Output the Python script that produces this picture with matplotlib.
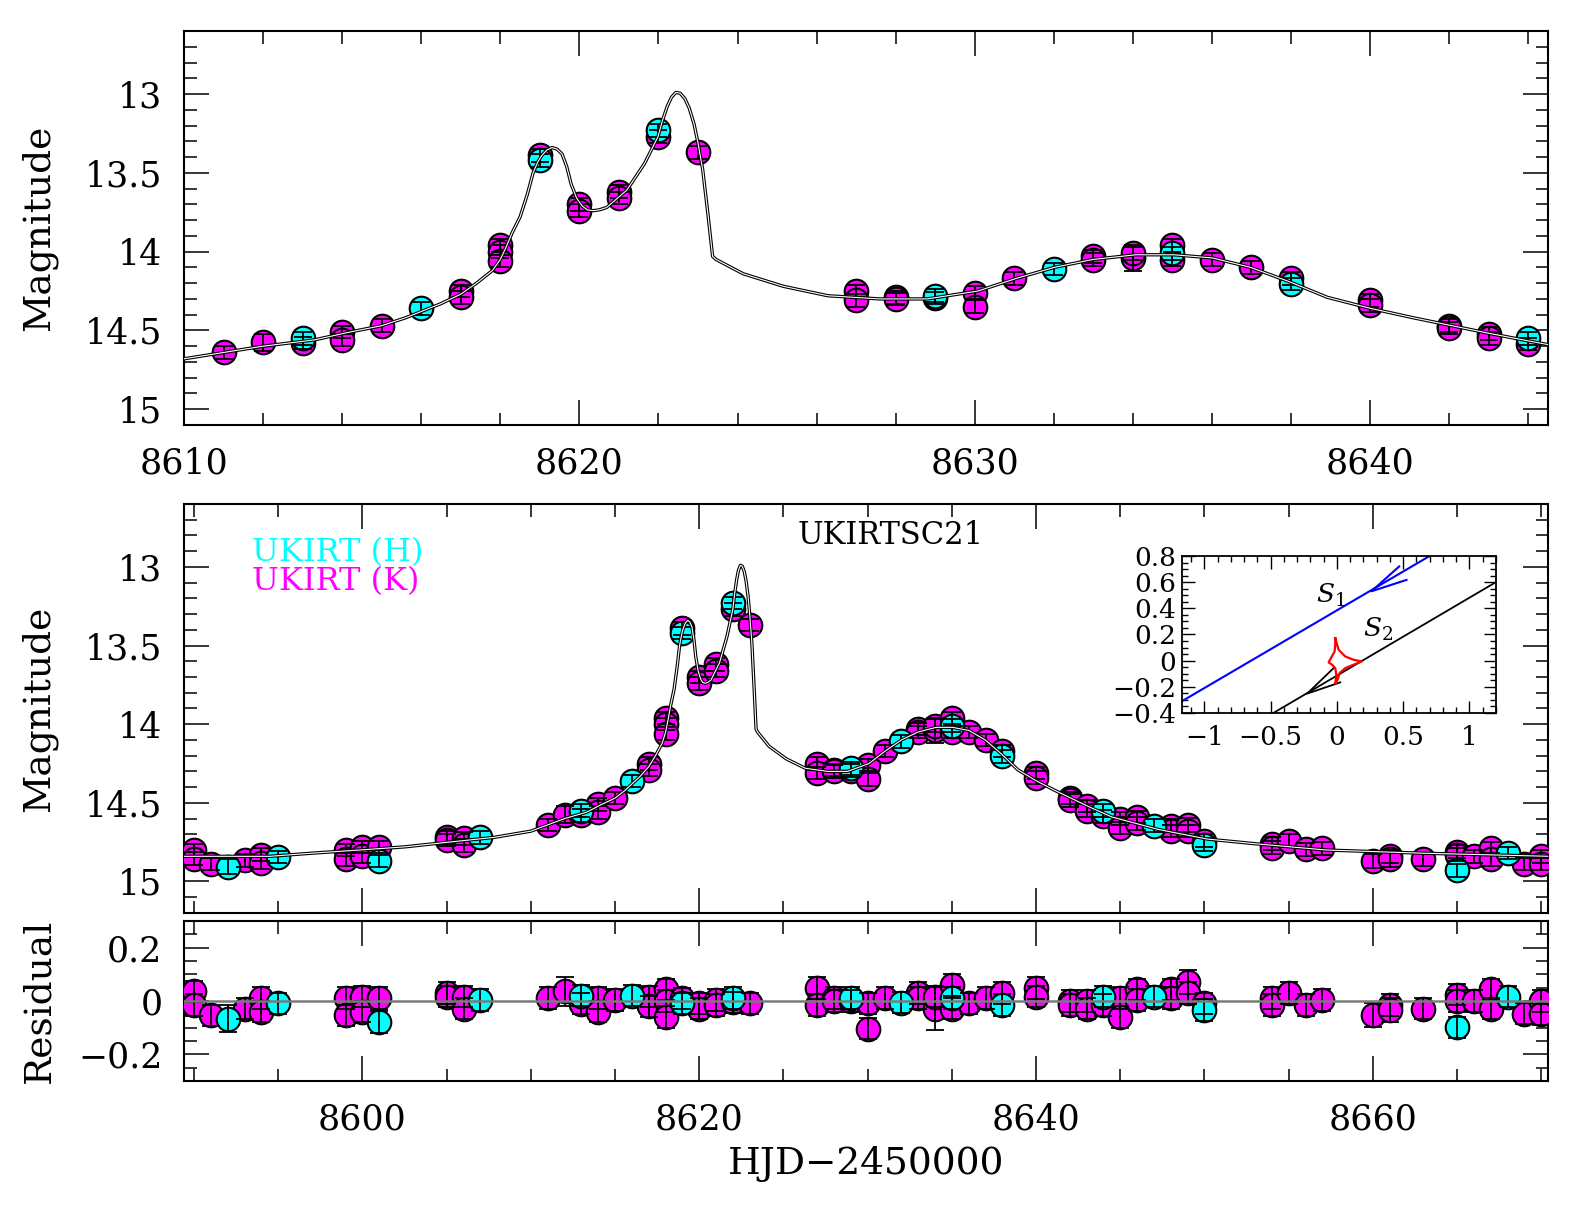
import matplotlib
matplotlib.use("Agg")
import matplotlib.pyplot as plt
import numpy as np
from matplotlib.ticker import MultipleLocator, FuncFormatter

plt.rcParams['font.family'] = ['DejaVu Serif']
plt.rcParams['mathtext.fontset'] = 'dejavuserif'

# ---- model light curve ----
model_t = [8589.4, 8592.0, 8594.5, 8597.0, 8599.8, 8602.5, 8605.1, 8607.8, 8610.0, 8611.0,
           8612.0, 8613.3, 8614.2, 8615.0, 8615.6, 8616.0, 8616.5, 8617.0, 8617.4, 8617.8,
           8618.0, 8618.15, 8618.3, 8618.5, 8618.68, 8618.83, 8618.95, 8619.05, 8619.18, 8619.31,
           8619.44, 8619.56, 8619.68, 8619.79, 8619.93, 8620.07, 8620.2, 8620.35, 8620.5, 8620.69,
           8621.2, 8621.65, 8621.99, 8622.1, 8622.22, 8622.33, 8622.44, 8622.55, 8622.67, 8622.78,
           8622.9, 8623.0, 8623.12, 8623.26, 8623.37, 8623.46, 8623.8, 8624.14, 8625.16, 8626.29,
           8627.6, 8628.8, 8630.08, 8631.05, 8632.01, 8632.98, 8634.07, 8635.04, 8636.01, 8636.98,
           8637.95, 8638.92, 8640.01, 8641.1, 8642.07, 8643.04, 8644.5, 8647.3, 8650.15, 8653.0,
           8657.25, 8662.9, 8670.5]
model_m = [14.84, 14.84, 14.84, 14.82, 14.80, 14.78, 14.75, 14.72, 14.68, 14.64,
           14.60, 14.56, 14.51, 14.47, 14.42, 14.38, 14.33, 14.27, 14.20, 14.12,
           14.05, 13.97, 13.88, 13.78, 13.64, 13.50, 13.43, 13.39, 13.355, 13.34,
           13.35, 13.38, 13.46, 13.57, 13.66, 13.71, 13.735, 13.74, 13.735, 13.72,
           13.61, 13.44, 13.27, 13.17, 13.08, 13.02, 12.99, 12.995, 13.03, 13.09,
           13.19, 13.31, 13.48, 13.78, 14.03, 14.05, 14.095, 14.14, 14.22, 14.28,
           14.30, 14.30, 14.25, 14.17, 14.10, 14.05, 14.02, 14.02, 14.04, 14.10,
           14.19, 14.29, 14.36, 14.42, 14.47, 14.52, 14.59, 14.67, 14.73, 14.76,
           14.80, 14.82, 14.84]

# ---- UKIRT K band ----
k_t = [8590.0, 8590.0, 8591.0, 8593.0, 8594.0, 8594.0,
       8599.0, 8599.0, 8600.0, 8600.0, 8601.0,
       8605.0, 8605.0, 8606.0, 8606.0,
       8611.0, 8612.0, 8613.0, 8614.0, 8614.0, 8615.0, 8617.0, 8617.0,
       8618.0, 8618.0, 8618.0, 8619.0, 8620.0, 8620.0, 8621.0, 8621.0, 8622.0, 8623.0,
       8627.0, 8627.0, 8628.0, 8628.0, 8629.0, 8630.0, 8630.0, 8631.0,
       8633.0, 8633.0, 8634.0, 8634.0, 8635.0, 8635.0, 8636.0, 8637.0, 8638.0,
       8640.0, 8640.0, 8642.0, 8642.0, 8643.0, 8643.0, 8644.0, 8645.0, 8645.0,
       8646.0, 8646.0, 8648.0, 8648.0, 8649.0, 8649.0, 8650.0,
       8654.0, 8654.0, 8655.0, 8656.0, 8657.0,
       8660.0, 8661.0, 8661.0, 8663.0, 8665.0, 8665.0, 8666.0, 8667.0, 8667.0,
       8669.0, 8670.0, 8670.0]
k_mag = [14.80, 14.855, 14.89, 14.865, 14.83, 14.88,
         14.80, 14.86, 14.78, 14.84, 14.78,
         14.72, 14.735, 14.725, 14.77,
         14.64, 14.575, 14.58, 14.51, 14.56, 14.47, 14.25, 14.29,
         13.96, 14.00, 14.06, 13.39, 13.70, 13.74, 13.62, 13.66, 13.27, 13.37,
         14.25, 14.31, 14.29, 14.30, 14.295, 14.26, 14.35, 14.17,
         14.03, 14.05, 14.04, 14.01, 13.96, 14.05, 14.05, 14.10, 14.17,
         14.31, 14.34, 14.47, 14.485, 14.52, 14.55, 14.585, 14.60, 14.66,
         14.59, 14.63, 14.645, 14.68, 14.64, 14.68, 14.74,
         14.76, 14.785, 14.74, 14.795, 14.79,
         14.87, 14.84, 14.86, 14.86, 14.81, 14.83, 14.84, 14.79, 14.86,
         14.89, 14.84, 14.89]
k_err = [0.04, 0.04, 0.04, 0.04, 0.04, 0.04,
         0.04, 0.04, 0.04, 0.04, 0.04,
         0.04, 0.04, 0.04, 0.04,
         0.04, 0.055, 0.04, 0.04, 0.04, 0.04, 0.04, 0.04,
         0.04, 0.04, 0.04, 0.04, 0.04, 0.04, 0.04, 0.04, 0.04, 0.04,
         0.04, 0.04, 0.04, 0.04, 0.04, 0.04, 0.04, 0.04,
         0.04, 0.04, 0.08, 0.04, 0.04, 0.04, 0.04, 0.04, 0.04,
         0.04, 0.04, 0.04, 0.04, 0.04, 0.04, 0.04, 0.04, 0.04,
         0.04, 0.04, 0.04, 0.04, 0.045, 0.04, 0.04,
         0.04, 0.04, 0.04, 0.04, 0.04,
         0.045, 0.04, 0.045, 0.04, 0.04, 0.04, 0.04, 0.04, 0.04,
         0.04, 0.04, 0.04]
k_res = [0.036, -0.015, -0.053, -0.028, 0.011, -0.040,
         0.011, -0.053, 0.017, -0.040, 0.011,
         0.030, 0.017, 0.017, -0.028,
         0.011, 0.036, -0.010, 0.011, -0.040, 0.004, 0.017, -0.020,
         0.044, 0.000, -0.060, 0.010, -0.009, -0.028, 0.004, -0.015, -0.005, -0.009,
         0.049, -0.015, 0.011, 0.000, 0.000, -0.009, -0.104, 0.011,
         0.030, 0.011, -0.028, 0.017, 0.060, -0.028, -0.009, 0.011, 0.030,
         0.049, 0.017, 0.000, -0.015, 0.000, -0.028, -0.015, 0.011, -0.060,
         0.044, 0.004, 0.044, 0.011, 0.070, 0.030, -0.009,
         0.011, -0.015, 0.030, -0.015, 0.004,
         -0.053, -0.015, -0.034, -0.028, 0.024, 0.000, 0.000, 0.044, -0.028,
         -0.047, 0.000, -0.050]

# ---- UKIRT H band ----
h_t = [8592.0, 8595.0, 8601.0, 8607.0, 8613.0, 8616.0, 8619.0, 8622.0, 8629.0,
       8632.0, 8635.0, 8638.0, 8644.0, 8647.0, 8650.0, 8665.0, 8668.0]
h_mag = [14.905, 14.845, 14.87, 14.72, 14.55, 14.36, 13.42, 13.23, 14.28,
         14.11, 14.01, 14.205, 14.55, 14.645, 14.765, 14.93, 14.82]
h_err = [0.05, 0.04, 0.04, 0.04, 0.04, 0.04, 0.04, 0.04, 0.04,
         0.04, 0.04, 0.04, 0.04, 0.04, 0.04, 0.04, 0.04]
h_res = [-0.066, -0.009, -0.079, 0.004, 0.020, 0.020, -0.009, 0.011, 0.011,
         -0.006, 0.011, -0.015, 0.017, 0.017, -0.034, -0.098, 0.017]

# ---- inset: source trajectories and caustic ----
s1_x = [-1.17, 0.70]
s1_y = [-0.31, 0.80]
s1_arrow_x = [0.47, 0.26, 0.525]
s1_arrow_y = [0.72, 0.53, 0.617]
s2_x = [-0.48, 1.20]
s2_y = [-0.40, 0.60]
s2_arrow_x = [-0.025, -0.225, 0.025]
s2_arrow_y = [-0.057, -0.252, -0.166]
caustic_x = [-0.0125, 0.0125, 0.0625, 0.125, 0.1875, 0.125, 0.0625, 0.02, 0.005, -0.0125,
             -0.005, -0.0125, -0.0375, -0.0625, -0.045, -0.0175, -0.0125, -0.0125]
caustic_y = [0.172, 0.083, 0.032, 0.007, -0.006, -0.031, -0.057, -0.095, -0.146, -0.176,
             -0.107, -0.057, -0.031, -0.013, 0.02, 0.07, 0.134, 0.172]

assert len(k_t) == len(k_mag) == len(k_err) == len(k_res)
assert len(h_t) == len(h_mag) == len(h_err) == len(h_res)
assert len(model_t) == len(model_m)

CYAN = '#00FFFF'
MAGENTA = '#FF00FF'
TICK_FS = 25
LABEL_FS = 27


def num_fmt(v, pos):
    v = round(v, 6)
    if abs(v) < 1e-9:
        v = 0.0
    return ('%g' % v).replace('-', '\u2212')


def style_axis(ax, xmaj, xmin, ymaj, ymin):
    ax.xaxis.set_major_locator(MultipleLocator(xmaj))
    ax.xaxis.set_minor_locator(MultipleLocator(xmin))
    ax.yaxis.set_major_locator(MultipleLocator(ymaj))
    ax.yaxis.set_minor_locator(MultipleLocator(ymin))
    ax.xaxis.set_major_formatter(FuncFormatter(num_fmt))
    ax.yaxis.set_major_formatter(FuncFormatter(num_fmt))
    ax.tick_params(which='both', direction='in', top=True, right=True,
                   width=1.1, labelsize=TICK_FS, pad=15.5)
    ax.tick_params(which='major', length=18)
    ax.tick_params(which='minor', length=9)
    for sp in ax.spines.values():
        sp.set_linewidth(1.5)


def draw_points(ax, kt, ky, ke, ht, hy, he):
    ax.plot(kt, ky, 'o', ms=17, mfc=MAGENTA, mec='black', mew=1.5, ls='none', zorder=3)
    ax.plot(ht, hy, 'o', ms=17, mfc=CYAN, mec='black', mew=1.5, ls='none', zorder=4)
    for t, y, e in ((kt, ky, ke), (ht, hy, he)):
        ax.errorbar(t, y, yerr=e, fmt='none', ecolor='black', elinewidth=1.3,
                    capsize=6.5, capthick=1.3, zorder=5)


def draw_model(ax):
    ax.plot(model_t, model_m, color='black', lw=2.4, zorder=6, solid_joinstyle='round')
    ax.plot(model_t, model_m, color='white', lw=0.8, zorder=7, solid_joinstyle='round')


fig = plt.figure(figsize=(15.78, 12.06), dpi=100)

# ---- top panel (zoom on the anomaly) ----
ax1 = fig.add_axes([0.1166, 0.6476, 0.8644, 0.3267])
draw_points(ax1, k_t, k_mag, k_err, h_t, h_mag, h_err)
draw_model(ax1)
ax1.set_xlim(8610, 8644.5)
ax1.set_ylim(15.1, 12.6)
style_axis(ax1, 10, 2, 0.5, 0.1)
ax1.set_ylabel('Magnitude', fontsize=LABEL_FS)
ax1.yaxis.set_label_coords(-0.093, 0.5)

# ---- middle panel (full light curve) ----
ax2 = fig.add_axes([0.1166, 0.2430, 0.8644, 0.3391])
draw_points(ax2, k_t, k_mag, k_err, h_t, h_mag, h_err)
draw_model(ax2)
ax2.set_xlim(8589.4, 8670.4)
ax2.set_ylim(15.2, 12.6)
style_axis(ax2, 20, 5, 0.5, 0.1)
ax2.tick_params(axis='x', labelbottom=False)
ax2.set_ylabel('Magnitude', fontsize=LABEL_FS)
ax2.yaxis.set_label_coords(-0.093, 0.5)
ax2.text(0.050, 0.882, 'UKIRT (H)', color=CYAN, fontsize=23, transform=ax2.transAxes,
         ha='left', va='center')
ax2.text(0.050, 0.811, 'UKIRT (K)', color=MAGENTA, fontsize=23, transform=ax2.transAxes,
         ha='left', va='center')
ax2.text(0.518, 0.923, 'UKIRTSC21', color='black', fontsize=22, transform=ax2.transAxes,
         ha='center', va='center')

# ---- residual panel ----
ax3 = fig.add_axes([0.1166, 0.1036, 0.8644, 0.1327])
draw_points(ax3, k_t, k_res, k_err, h_t, h_res, h_err)
ax3.axhline(0, color='#7a7a7a', lw=1.8, zorder=8)
ax3.set_xlim(8589.4, 8670.4)
ax3.set_ylim(-0.3, 0.3)
style_axis(ax3, 20, 5, 0.2, 0.05)
ax3.set_ylabel('Residual', fontsize=LABEL_FS)
ax3.yaxis.set_label_coords(-0.093, 0.5)
ax3.set_xlabel('HJD\u22122450000', fontsize=LABEL_FS, labelpad=7)

# ---- inset: source trajectory ----
axi = fig.add_axes([0.7490, 0.4088, 0.1990, 0.1302])
axi.plot(s1_x, s1_y, color='#0000FF', lw=1.5)
axi.plot(s1_arrow_x, s1_arrow_y, color='#0000FF', lw=1.5)
axi.plot(s2_x, s2_y, color='black', lw=1.3)
axi.plot(s2_arrow_x, s2_arrow_y, color='black', lw=1.3)
axi.plot(caustic_x, caustic_y, color='#FF0000', lw=1.6)
axi.set_xlim(-1.17, 1.2)
axi.set_ylim(-0.4, 0.8)
axi.xaxis.set_major_locator(MultipleLocator(0.5))
axi.xaxis.set_minor_locator(MultipleLocator(0.1))
axi.yaxis.set_major_locator(MultipleLocator(0.2))
axi.yaxis.set_minor_locator(MultipleLocator(0.05))
axi.xaxis.set_major_formatter(FuncFormatter(num_fmt))
axi.yaxis.set_major_formatter(FuncFormatter(num_fmt))
axi.tick_params(which='both', direction='in', top=True, right=True, width=1.0, labelsize=19)
axi.tick_params(which='major', length=9)
axi.tick_params(which='minor', length=4.5)
axi.tick_params(axis='x', pad=9)
axi.tick_params(axis='y', pad=4)
for sp in axi.spines.values():
    sp.set_linewidth(1.3)
axi.text(-0.05, 0.50, r'$S_1$', fontsize=19, ha='center', va='center')
axi.text(0.31, 0.24, r'$S_2$', fontsize=19, ha='center', va='center')

fig.savefig('out.png', dpi=100)
